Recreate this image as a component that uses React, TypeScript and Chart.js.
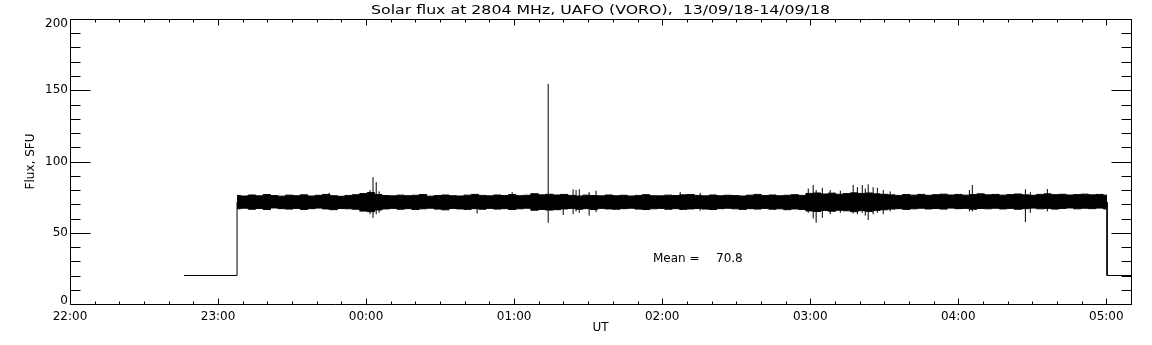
import React, { useEffect, useRef } from "react";
import { Chart, registerables } from "chart.js";

Chart.register(...registerables);

// ---- data (time in minutes since 22:00 UT, flux in SFU) ----
const titleText = "Solar flux at 2804 MHz, UAFO (VORO),  13/09/18-14/09/18";
const xTitle = "UT";
const yTitle = "Flux, SFU";
const xTickLabels = ["22:00", "23:00", "00:00", "01:00", "02:00", "03:00", "04:00", "05:00"];
const yTickLabels = ["0", "50", "100", "150", "200"];
const xRangeMin = [0, 430];
const yRange = [0, 200];
const meanValue = 70.8;

// off-band calibration level before and after the observation
const calLevel = 20;
const preCalMin = [46.2, 67.7];
const postCalMin = [420.3, 430];

// envelope of the noise band (max / min), sampled evenly from 23:07.7 to 05:00.3
const bandSpanMin = [67.7, 420.3];
const bandHigh = [
  76.2, 75.8, 76.5, 75.9, 76.8, 76.1, 75.7, 76.4, 76.0, 76.6, 75.8, 76.3, 76.9, 76.0, 75.6, 76.2, 76.7,
  77.5, 78.2, 76.8, 76.1, 75.9, 76.4, 76.0, 76.3, 76.8, 75.7, 76.1, 76.5, 76.0, 75.8, 76.4, 76.9, 76.2,
  75.9, 76.5, 76.1, 76.8, 76.0, 76.3, 77.4, 76.6, 77.0, 76.5, 76.9, 76.2, 75.8, 76.4, 76.1, 75.9, 76.5,
  76.0, 76.3, 75.8, 76.2, 76.7, 76.0, 75.9, 76.4, 76.1, 76.6, 76.8, 76.2, 75.9, 76.5, 76.0, 76.3, 76.1,
  75.8, 76.4, 76.9, 76.1, 76.5, 76.0, 76.3, 76.7, 76.2, 77.6, 77.9, 77.2, 77.8, 77.0, 77.5, 78.0, 77.6,
  77.9, 77.3, 77.0, 76.6, 76.2, 76.8, 76.4, 76.9, 76.3, 76.7, 77.1, 76.5, 76.9, 76.4, 76.8, 77.3, 76.6,
  76.9, 76.4, 76.8, 77.2, 76.6, 76.3, 76.9, 77.3, 76.7, 77.0, 76.5, 76.8, 77.1, 76.6, 76.9, 76.4,
];
const bandLow = [
  66.8, 67.2, 66.5, 67.0, 66.3, 67.4, 66.9, 66.6, 67.1, 66.4, 66.9, 67.3, 66.7, 66.2, 67.0, 66.8, 66.5,
  65.2, 64.8, 66.0, 66.7, 67.1, 66.5, 66.9, 66.3, 66.8, 67.2, 66.6, 66.1, 67.0, 66.7, 66.4, 66.9, 66.5,
  67.1, 66.6, 66.9, 66.3, 66.8, 67.2, 65.8, 66.4, 65.9, 66.2, 66.7, 67.0, 66.5, 66.9, 66.3, 67.1, 66.7,
  66.5, 66.9, 67.2, 66.6, 66.3, 66.8, 67.1, 66.5, 66.9, 66.4, 66.7, 67.0, 66.6, 66.3, 66.9, 67.2, 66.8,
  66.4, 66.9, 66.6, 67.1, 66.5, 66.8, 66.2, 66.7, 66.4, 65.3, 64.9, 65.6, 65.1, 65.8, 65.4, 64.8, 65.5,
  65.0, 65.7, 66.1, 66.6, 66.9, 66.4, 66.8, 67.2, 66.7, 67.0, 66.6, 67.3, 66.9, 67.1, 66.5, 67.0, 66.8,
  67.2, 66.7, 67.1, 66.5, 66.9, 67.3, 66.8, 67.1, 66.6, 67.0, 67.4, 66.8, 67.2, 66.9, 67.3, 66.7,
];

// individual bursts / excursions
const spikeMin = [
  105.0, 121.6, 122.8, 124.1, 125.3, 165.0, 179.2, 193.8, 199.9, 203.9, 205.1, 206.4, 210.4, 213.2,
  247.3, 255.4, 299.2, 301.2, 302.4, 304.9, 308.1, 312.2, 317.4, 319.1, 321.1, 322.3, 323.5, 325.5,
  327.2, 329.6, 332.4, 364.5, 365.7, 387.2, 389.2, 396.1,
];
const spikeHigh = [
  78, 80, 89, 85.5, 79, 77, 78.5, 154.5, 77, 80.5, 80, 80.5, 78.5, 79.5,
  78.5, 78, 81, 83.5, 80, 81.5, 80, 79.5, 83.5, 82, 83.5, 81, 84, 82,
  81.5, 80, 79, 80, 83.5, 80.5, 78.5, 80.7,
];
const spikeLow = [
  66, 63, 60.5, 63, 64, 63.5, 66, 57, 62.5, 63, 65, 64, 62, 64.5,
  66, 65.5, 64, 60, 57, 60.5, 63, 64, 63.5, 63, 64, 62, 59, 63,
  64, 63, 65, 65, 65, 57.5, 64, 65,
];

const FONT = '"DejaVu Sans", sans-serif';

export default function App() {
  const ref = useRef<HTMLCanvasElement | null>(null);

  useEffect(() => {
    const canvas = ref.current;
    if (!canvas) return;

    const n = bandHigh.length;
    const bandT = (i: number) => bandSpanMin[0] + (i * (bandSpanMin[1] - bandSpanMin[0])) / (n - 1);
    const hiData = bandHigh.map((v, i) => ({ x: bandT(i), y: v }));
    const loData = bandLow.map((v, i) => ({ x: bandT(i), y: v }));

    const spikeData: { x: number; y: number | null }[] = [];
    spikeMin.forEach((t, i) => {
      spikeData.push({ x: t, y: spikeLow[i] });
      spikeData.push({ x: t, y: spikeHigh[i] });
      spikeData.push({ x: t, y: null });
    });

    const midStart = (bandHigh[0] + bandLow[0]) / 2;
    const midEnd = (bandHigh[n - 1] + bandLow[n - 1]) / 2;
    const calData = [
      { x: preCalMin[0], y: calLevel },
      { x: preCalMin[1], y: calLevel },
      { x: preCalMin[1], y: midStart },
      { x: preCalMin[1], y: null },
      { x: postCalMin[0], y: midEnd },
      { x: postCalMin[0], y: calLevel },
      { x: postCalMin[1], y: calLevel },
    ];

    const axesPlugin = {
      id: "idlAxes",
      afterDraw(chart: any) {
        const ctx = chart.ctx as CanvasRenderingContext2D;
        const { left, right, top, bottom } = chart.chartArea;
        const xs = chart.scales.x;
        const ys = chart.scales.y;
        ctx.save();
        ctx.strokeStyle = "#000";
        ctx.lineWidth = 1;
        const L = Math.round(left) + 0.5;
        const R = Math.round(right) + 0.5;
        const T = Math.round(top) + 0.5;
        const B = Math.round(bottom) + 0.5;
        ctx.beginPath();
        ctx.rect(L, T, R - L, B - T);
        ctx.stroke();

        // y ticks
        ctx.beginPath();
        for (let v = yRange[0]; v <= yRange[1]; v += 10) {
          const len = v % 50 === 0 ? 20 : 10;
          const py = Math.round(ys.getPixelForValue(v)) + 0.5;
          ctx.moveTo(L, py);
          ctx.lineTo(L + len, py);
          ctx.moveTo(R, py);
          ctx.lineTo(R - len, py);
        }
        // x ticks
        for (let m = xRangeMin[0]; m <= xRangeMin[1]; m += 10) {
          const len = m % 60 === 0 ? 6 : 3;
          const px = Math.round(xs.getPixelForValue(m)) + 0.5;
          ctx.moveTo(px, B);
          ctx.lineTo(px, B - len);
          ctx.moveTo(px, T);
          ctx.lineTo(px, T + len);
        }
        ctx.stroke();

        ctx.fillStyle = "#000";
        ctx.font = `12px ${FONT}`;
        // y labels
        ctx.textAlign = "right";
        ctx.textBaseline = "middle";
        yTickLabels.forEach((lab) => {
          const v = Number(lab);
          let py = ys.getPixelForValue(v);
          py = Math.max(top + 4.5, Math.min(bottom - 3.5, py));
          ctx.fillText(lab, left - 2, py);
        });
        // x labels
        ctx.textAlign = "center";
        xTickLabels.forEach((lab, i) => {
          const px = xs.getPixelForValue(i * 60);
          ctx.fillText(lab, px, bottom + 13);
        });
        // axis titles
        ctx.fillText(xTitle, (left + right) / 2, bottom + 24);
        ctx.save();
        ctx.translate(31, (top + bottom) / 2);
        ctx.rotate(-Math.PI / 2);
        ctx.fillText(yTitle, 0, 0);
        ctx.restore();

        // title, stretched to the reference width
        ctx.save();
        const w = ctx.measureText(titleText).width;
        const target = 459;
        ctx.translate((left + right) / 2, 11);
        ctx.scale(target / w, 1);
        ctx.fillText(titleText, 0, 0);
        ctx.restore();

        // mean annotation
        ctx.textAlign = "left";
        ctx.fillText("Mean =", 653, 259);
        ctx.fillText(meanValue.toFixed(1), 716, 259);
        ctx.restore();
      },
    };

    const chart = new Chart(canvas, {
      type: "line",
      data: {
        datasets: [
          {
            data: hiData,
            borderColor: "#000",
            backgroundColor: "#000",
            borderWidth: 1,
            fill: "+1",
            stepped: "middle",
            pointRadius: 0,
          },
          {
            data: loData,
            borderColor: "#000",
            borderWidth: 1,
            fill: false,
            stepped: "middle",
            pointRadius: 0,
          },
          {
            data: spikeData,
            borderColor: "#000",
            borderWidth: 1,
            fill: false,
            spanGaps: false,
            pointRadius: 0,
          },
          {
            data: calData,
            borderColor: "#000",
            borderWidth: 1,
            fill: false,
            spanGaps: false,
            pointRadius: 0,
          },
        ],
      } as any,
      options: {
        animation: false,
        responsive: false,
        devicePixelRatio: 1,
        layout: { padding: { left: 70, right: 21, top: 19, bottom: 41 } },
        plugins: { legend: { display: false }, tooltip: { enabled: false } },
        elements: { point: { radius: 0 } },
        scales: {
          x: { type: "linear", min: xRangeMin[0], max: xRangeMin[1], display: false },
          y: { type: "linear", min: yRange[0], max: yRange[1], display: false },
        },
      } as any,
      plugins: [axesPlugin],
    });

    return () => chart.destroy();
  }, []);

  return (
    <div style={{ position: "fixed", left: 0, top: 0, width: 1152, height: 345, background: "#fff" }}>
      <canvas ref={ref} width={1152} height={345} style={{ width: 1152, height: 345 }} />
    </div>
  );
}
